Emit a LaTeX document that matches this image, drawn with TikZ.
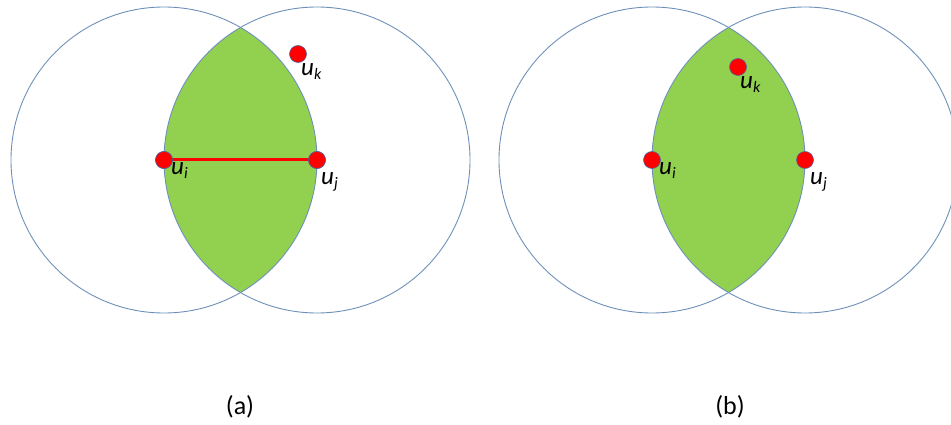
\documentclass[tikz,border=0pt]{standalone}
\usepackage{fontspec}
\setmainfont{Carlito}
\definecolor{ringblue}{RGB}{110,145,185}
\definecolor{lensgreen}{RGB}{146,208,80}
\definecolor{dotred}{RGB}{255,0,0}
\definecolor{dotedge}{RGB}{80,100,160}
\tikzset{
  ring/.style={draw=ringblue, line width=0.9pt},
  lens/.style={fill=lensgreen},
  dot/.style={circle, fill=dotred, draw=dotedge, line width=0.6pt, minimum size=17pt, inner sep=0pt},
  lbl/.style={anchor=base west, inner sep=0pt, font=\fontsize{25}{28}\selectfont\itshape},
  captxt/.style={font=\fontsize{26}{30}\selectfont},
  redline/.style={draw=dotred, line width=3pt}
}
\newcommand{\ulab}[1]{u\raisebox{-0.3ex}{\fontsize{16}{18}\selectfont #1}}
\begin{document}
\begin{tikzpicture}[x=1pt,y=-1pt]
\useasboundingbox (0,0) rectangle (951,425);
\clip (0,0) rectangle (951,425);
% panel (a)
\begin{scope}
  \clip (164,160) circle (153);
  \fill[lens] (317,160) circle (153);
\end{scope}
\draw[ring] (164,160) circle (153);
\draw[ring] (317,160) circle (153);
\node[dot] (ai) at (164,160) {};
\node[dot] (aj) at (317,160) {};
\node[dot] (ak) at (298,54) {};
\draw[redline] (ai.center) -- (aj.center);
\node[dot] at (164,160) {};
\node[dot] at (317,160) {};
\node[lbl] (ail) at (171,175) {\ulab{i}};
\node[lbl] (ajl) at (321,185) {\ulab{j}};
\node[lbl] (akl) at (301,76) {\ulab{k}};
\node[captxt] (capa) at (240,407) {(a)};
% panel (b)
\begin{scope}
  \clip (652,160) circle (153);
  \fill[lens] (805,160) circle (153);
\end{scope}
\draw[ring] (652,160) circle (153);
\draw[ring] (805,160) circle (153);
\node[dot] (bi) at (652,160) {};
\node[dot] (bj) at (805,160) {};
\node[dot] (bk) at (738,67) {};
\node[lbl] (bil) at (659,175) {\ulab{i}};
\node[lbl] (bjl) at (810,185) {\ulab{j}};
\node[lbl] (bkl) at (740,89) {\ulab{k}};
\node[captxt] (capb) at (730,407) {(b)};
\end{tikzpicture}
\end{document}
